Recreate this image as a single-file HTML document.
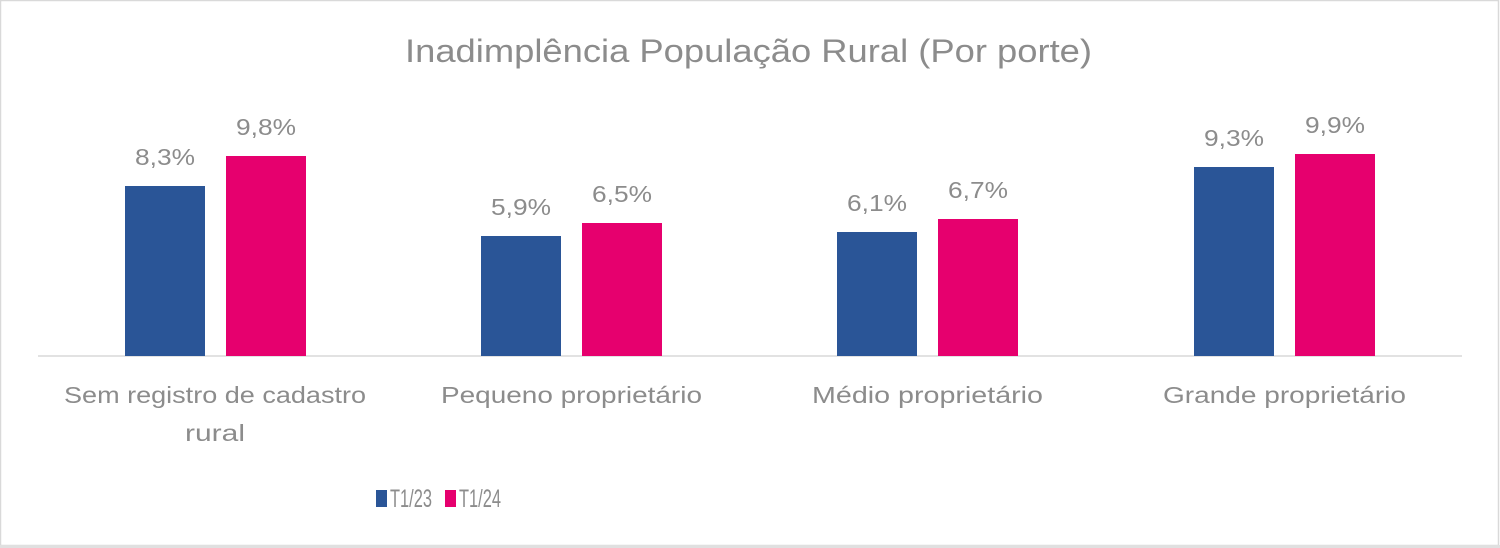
<!DOCTYPE html>
<html><head><meta charset="utf-8"><style>
html,body{margin:0;padding:0;background:#fff;}
svg{display:block;}
text{font-family:"Liberation Sans",sans-serif;fill:#8c8c8c;}
</style></head><body>
<svg width="1500" height="548" viewBox="0 0 1500 548">
<rect x="0.5" y="0.5" width="1498" height="545" fill="#fff" stroke="#d9d9d9" stroke-width="1.5"/>
<rect x="0" y="545" width="1500" height="3" fill="#e0e0e0"/>
<text x="405" y="62" font-size="32" textLength="687" lengthAdjust="spacingAndGlyphs" fill="#999">Inadimplência População Rural (Por porte)</text>
<line x1="38" y1="356" x2="1462" y2="356" stroke="#d9d9d9" stroke-width="1.5"/>
<g fill="#2a5597">
<rect x="125" y="186" width="80" height="170"/>
<rect x="481" y="236" width="80" height="120"/>
<rect x="837" y="232" width="80" height="124"/>
<rect x="1194" y="167" width="80" height="189"/>
</g>
<g fill="#e6006e">
<rect x="226" y="156" width="80" height="200"/>
<rect x="582" y="223" width="80" height="133"/>
<rect x="938" y="219" width="80" height="137"/>
<rect x="1295" y="154" width="80" height="202"/>
</g>
<g font-size="23">
<text x="135" y="165" textLength="60" lengthAdjust="spacingAndGlyphs">8,3%</text>
<text x="236" y="135" textLength="60" lengthAdjust="spacingAndGlyphs">9,8%</text>
<text x="491" y="215" textLength="60" lengthAdjust="spacingAndGlyphs">5,9%</text>
<text x="592" y="202" textLength="60" lengthAdjust="spacingAndGlyphs">6,5%</text>
<text x="847" y="211" textLength="60" lengthAdjust="spacingAndGlyphs">6,1%</text>
<text x="948" y="198" textLength="60" lengthAdjust="spacingAndGlyphs">6,7%</text>
<text x="1204" y="146" textLength="60" lengthAdjust="spacingAndGlyphs">9,3%</text>
<text x="1305" y="133" textLength="60" lengthAdjust="spacingAndGlyphs">9,9%</text>
<text x="64" y="403" textLength="302" lengthAdjust="spacingAndGlyphs">Sem registro de cadastro</text>
<text x="185" y="441" textLength="60" lengthAdjust="spacingAndGlyphs">rural</text>
<text x="441" y="403" textLength="261" lengthAdjust="spacingAndGlyphs">Pequeno proprietário</text>
<text x="812" y="403" textLength="231" lengthAdjust="spacingAndGlyphs">Médio proprietário</text>
<text x="1163" y="403" textLength="243" lengthAdjust="spacingAndGlyphs">Grande proprietário</text>
</g>
<rect x="376" y="490" width="11" height="17" fill="#2a5597"/>
<text x="390" y="507" font-size="25" textLength="42" lengthAdjust="spacingAndGlyphs">T1/23</text>
<rect x="445" y="490" width="11" height="17" fill="#e6006e"/>
<text x="459" y="507" font-size="25" textLength="42" lengthAdjust="spacingAndGlyphs">T1/24</text>
</svg>
</body></html>
